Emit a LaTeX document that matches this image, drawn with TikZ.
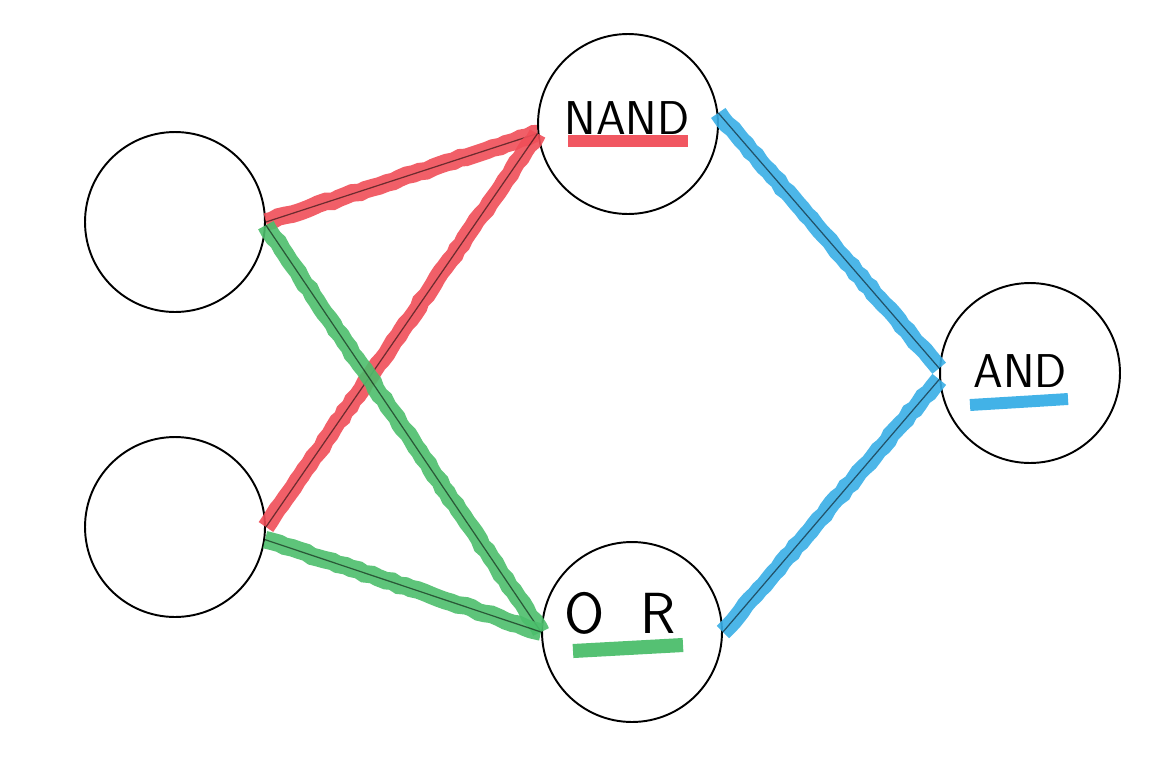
\documentclass[tikz,border=0pt]{standalone}
\usepackage{fontspec}
\usetikzlibrary{decorations.pathmorphing}
\definecolor{nandred}{RGB}{240,78,88}
\definecolor{orgreen}{RGB}{76,190,108}
\definecolor{andblue}{RGB}{56,174,230}
\tikzset{
  neuron/.style={circle, draw, line width=1.1pt, minimum size=3.6cm, inner sep=0pt},
  marker/.style={line width=10pt, opacity=0.9, decorate, decoration={random steps, segment length=4pt, amplitude=0.6pt}},
  pen/.style={line width=0.7pt, black, opacity=0.55},
  gatelabel/.style={font=\sffamily\fontsize{27}{27}\selectfont, inner sep=0pt}
}

\begin{document}
\begin{tikzpicture}[x=0.02cm, y=-0.02cm]
    \useasboundingbox (0,0) rectangle (1169,771);
    \node[neuron] (in1) at (175,222) {};
    \node[neuron] (in2) at (175,527) {};
    \node[neuron] (nand) at (628,124) {};
    \node[neuron] (or) at (632,632) {};
    \node[neuron] (and) at (1030,373) {};
    % first layer
    \draw [marker, nandred] (in1.east) -- (nand.186);
    \draw [pen] (in1.east) -- (nand.186);
    \draw [marker, nandred] (in2.east) -- (nand.186);
    \draw [pen] (in2.east) -- (nand.186);
    \draw [marker, orgreen] (in1.-2) -- (or.west);
    \draw [pen] (in1.-2) -- (or.west);
    \draw [marker, orgreen] (in2.-8) -- (or.west);
    \draw [pen] (in2.-8) -- (or.west);
    % second layer
    \draw [marker, andblue] (nand.7) -- (and.177);
    \draw [pen] (nand.7) -- (and.177);
    \draw [marker, andblue] (or.east) -- (and.184);
    \draw [pen] (or.east) -- (and.184);
    % gate names
    \node[gatelabel] (nandtxt) at (627,118) {NAND};
    \node[gatelabel] (andtxt) at (1020,371) {AND};
    \node[gatelabel, font=\sffamily\fontsize{33}{33}\selectfont] (ortxt) at (620,613) {O\ \ R};
    \draw [nandred, line width=6.8pt, opacity=0.95] (568,141) -- (688,141);
    \draw [andblue, line width=6.8pt, opacity=0.95] (970,405) .. controls (1020,402) .. (1068,399);
    \draw [orgreen, line width=8pt, opacity=0.95] (573,651) -- (683,645);
\end{tikzpicture}
\end{document}
